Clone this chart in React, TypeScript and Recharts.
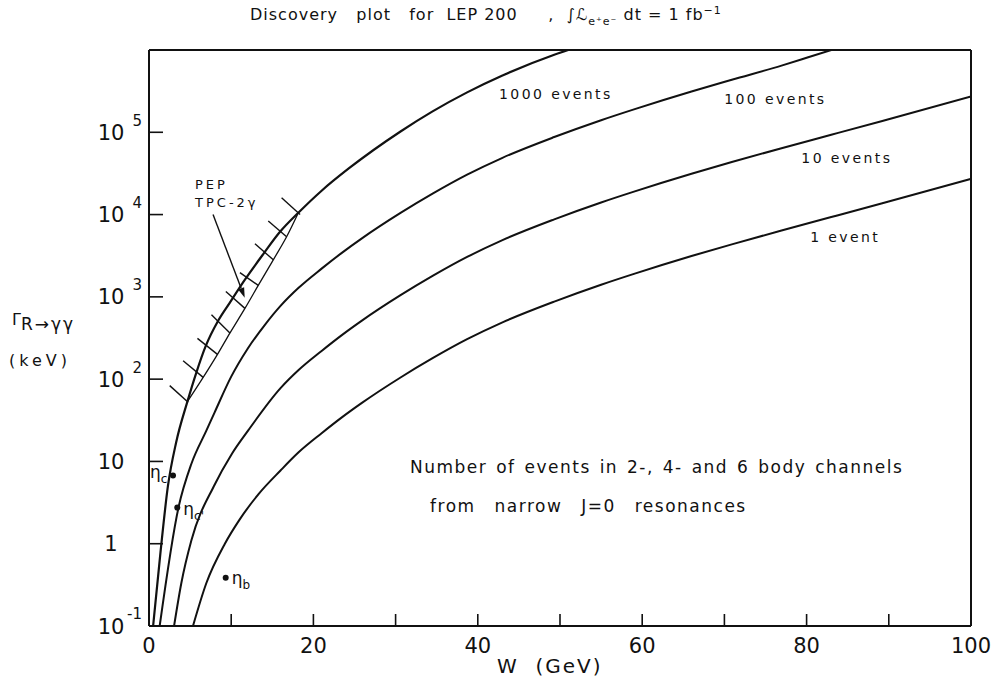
import React from 'react';
import { ComposedChart, Line, XAxis, YAxis, ReferenceDot, ReferenceLine } from 'recharts';

const FONT = '"DejaVu Sans", "Liberation Sans", sans-serif';
const INK = '#111';

// ---- axes ----
const xTicks = [0, 10, 20, 30, 40, 50, 60, 70, 80, 90, 100];
const xTickLabels = ['0', '', '20', '', '40', '', '60', '', '80', '', '100'];
const yTicks = [0.1, 1, 10, 100, 1000, 10000, 100000];
const yTickBase = ['10', '1', '10', '10', '10', '10', '10'];
const yTickExp = ['-1', '', '', '2', '3', '4', '5'];

// ---- curves: W (GeV) and Gamma (keV) ----
const w1000 = [0.5, 1.4, 2.3, 3.3, 4.67, 5.77, 6.87, 8.41, 9.84, 11.67, 13.9, 15.94, 18.17, 21.0, 24.3, 30.6, 34.5, 38.7, 43.0, 49.3, 51.0];
const g1000 = [0.1, 0.79, 5.0, 17, 53.3, 121, 248, 512, 853, 1620, 3310, 6170, 10520, 19500, 36310, 102300, 179500, 305500, 489800, 875000, 1000000];

const w100 = [1.3, 3.6, 5.16, 6.99, 8.0, 10.0, 12.0, 14.1, 16.0, 18.2, 21.0, 23.5, 25.9, 30.6, 34.5, 38.7, 43.0, 49.3, 55.0, 59.0, 66.0, 70.9, 76.95, 80.0, 83.0];
const g100 = [0.1, 2.79, 9.38, 23.8, 39.8, 107.2, 234.4, 457.1, 776.2, 1288, 2203, 3451, 5140, 10470, 17950, 30550, 48980, 87500, 140300, 190100, 313300, 434500, 645700, 803500, 1000000];

const w10 = [3.05, 3.93, 5.16, 8.0, 10.0, 12.07, 16.0, 18.2, 21.0, 23.5, 25.9, 30.6, 34.5, 38.7, 43.0, 49.3, 55.0, 59.0, 66.0, 70.9, 76.95, 83.0, 89.1, 100];
const g10 = [0.1, 0.331, 1.1, 5.25, 12.0, 23.8, 77.6, 128.8, 220, 345, 514, 1047, 1795, 3055, 4898, 8750, 14030, 19010, 31330, 43450, 64120, 93330, 136500, 272300];

const w1 = [5.35, 6.97, 9.23, 11.0, 13.3, 16.0, 18.2, 21.0, 23.5, 25.9, 30.6, 34.5, 38.7, 43.0, 49.3, 55.0, 59.0, 66.0, 70.9, 76.95, 83.0, 89.1, 100];
const g1 = [0.1, 0.331, 1.0, 1.95, 3.98, 7.76, 12.9, 22.0, 34.5, 51.4, 104.7, 179.5, 305.5, 489.8, 875, 1403, 1901, 3133, 4345, 6412, 9333, 13650, 27230];

// PEP TPC-2gamma excluded band (lower boundary)
const wBand = [4.67, 6.59, 8.33, 9.84, 11.67, 13.29, 15.12, 16.74, 18.17];
const gBand = [53.3, 105, 200, 363, 724, 1380, 2818, 5370, 10520];

// hatch strokes (start / end)
const hatchW1 = [2.52, 4.15, 5.89, 7.6, 9.35, 11.06, 12.89, 14.51, 16.13];
const hatchG1 = [83.4, 167, 313, 605, 1159, 1972, 4426, 8337, 16000];
const hatchW2 = [4.76, 6.59, 8.33, 9.84, 11.67, 13.29, 15.12, 16.74, 18.38];
const hatchG2 = [52.4, 105, 200, 363, 724, 1380, 2818, 5370, 10040];

// arrow from PEP label to band
const arrowW = [7.79, 11.64];
const arrowG = [10040, 977];

// resonances
const etaNames = ['c', "c'", 'b'];
const etaW = [2.92, 3.44, 9.33];
const etaG = [6.76, 2.75, 0.385];

// curve labels
const curveLabelText = ['1000 events', '100 events', '10 events', '1 event'];
const curveLabelW = [49.5, 76.2, 84.9, 84.7];
const curveLabelG = [290000, 257000, 48400, 5330];

// notes
const noteText = ['Number of events in 2-, 4- and 6 body channels', 'from narrow J=0 resonances'];
const noteW = [31.75, 34.2];
const noteG = [8.7, 2.85];
const pepText = ['PEP', 'TPC-2γ'];
const pepW = [5.6, 5.6];
const pepG = [23400, 14100];

const toPts = (w: number[], g: number[]) => w.map((x, i) => ({ w: x, v: g[i] }));

const XTick = (props: any) => {
  const { x, y, payload } = props;
  const lab = xTickLabels[xTicks.indexOf(payload.value)];
  if (!lab) return null;
  return (
    <text x={x} y={y} dy="0.36em" textAnchor="middle" fontSize={21} fill={INK} style={{ fontFamily: FONT }}>
      {lab}
    </text>
  );
};

const YTick = (props: any) => {
  const { x, y, payload } = props;
  const i = yTicks.indexOf(payload.value);
  if (i < 0) return null;
  return (
    <g style={{ fontFamily: FONT }} fill={INK}>
      <text x={x} y={y} dy="0.36em" textAnchor="middle" fontSize={21}>{yTickBase[i]}</text>
      {yTickExp[i] && (
        <text x={x + 31} y={y - 12} dy="0.36em" textAnchor="end" fontSize={15}>{yTickExp[i]}</text>
      )}
    </g>
  );
};

const ArrowShape = (p: any) => {
  const { x1, y1, x2, y2 } = p;
  const ang = Math.atan2(y2 - y1, x2 - x1);
  const L = 10;
  const H = 3.2;
  const bx = x2 - L * Math.cos(ang);
  const by = y2 - L * Math.sin(ang);
  const px = -Math.sin(ang) * H;
  const py = Math.cos(ang) * H;
  return (
    <g>
      <line x1={x1} y1={y1} x2={bx} y2={by} stroke={INK} strokeWidth={1.4} />
      <polygon points={`${x2},${y2} ${bx + px},${by + py} ${bx - px},${by - py}`} fill={INK} />
    </g>
  );
};

const textShape = (txt: string, size: number, anchor: string, ls: number, ws = 0) => (p: any) => (
  <text
    x={p.cx}
    y={p.cy}
    dy="0.36em"
    textAnchor={anchor as any}
    fontSize={size}
    fill={INK}
    style={{ fontFamily: FONT, letterSpacing: ls, wordSpacing: ws }}
  >
    {txt}
  </text>
);

const etaShape = (i: number) => (p: any) => {
  const { cx, cy } = p;
  const name = etaNames[i];
  let lx = cx + 6;
  let ly = cy + 6;
  if (i === 0) {
    lx = cx - 23;
    ly = cy + 3;
  }
  if (i === 1) {
    ly = cy + 7;
  }
  return (
    <g style={{ fontFamily: FONT }} fill={INK}>
      <circle cx={cx} cy={cy} r={3} fill={INK} />
      <text x={lx} y={ly} fontSize={17}>
        η<tspan fontSize={12} dy={5}>{name}</tspan>
      </text>
    </g>
  );
};

const axisStroke = { stroke: INK, strokeWidth: 2 };
const tickStroke = { stroke: INK, strokeWidth: 1.6 };

export default function App() {
  return (
    <div
      style={{
        position: 'absolute',
        left: 0,
        top: 0,
        width: 1002,
        height: 681,
        background: '#fff',
        fontFamily: FONT,
        color: INK,
        overflow: 'hidden',
      }}
    >
      <ComposedChart width={1002} height={681} margin={{ top: 49, right: 30, bottom: 0, left: 0 }}>
        <XAxis
          dataKey="w"
          type="number"
          domain={[0, 100]}
          ticks={xTicks}
          interval={0}
          tickSize={-12}
          tickMargin={31}
          tick={<XTick />}
          axisLine={axisStroke}
          tickLine={tickStroke}
          height={55}
          allowDataOverflow
        />
        <XAxis
          xAxisId="t"
          orientation="top"
          dataKey="w"
          type="number"
          domain={[0, 100]}
          ticks={xTicks}
          interval={0}
          tickSize={-12}
          tick={false}
          axisLine={axisStroke}
          tickLine={tickStroke}
          height={1}
          allowDataOverflow
        />
        <YAxis
          dataKey="v"
          type="number"
          scale="log"
          domain={[0.1, 1000000]}
          ticks={yTicks}
          interval={0}
          tickSize={-14}
          tickMargin={52}
          tick={<YTick />}
          axisLine={axisStroke}
          tickLine={tickStroke}
          width={149}
          allowDataOverflow
        />
        <YAxis
          yAxisId="r"
          orientation="right"
          dataKey="v"
          type="number"
          scale="log"
          domain={[0.1, 1000000]}
          ticks={yTicks}
          interval={0}
          tickSize={-14}
          tick={false}
          axisLine={axisStroke}
          tickLine={tickStroke}
          width={1}
          allowDataOverflow
        />

        <Line data={toPts(w1000, g1000)} dataKey="v" type="monotone" stroke={INK} strokeWidth={2.2} dot={false} isAnimationActive={false} />
        <Line data={toPts(w100, g100)} dataKey="v" type="monotone" stroke={INK} strokeWidth={2} dot={false} isAnimationActive={false} />
        <Line data={toPts(w10, g10)} dataKey="v" type="monotone" stroke={INK} strokeWidth={2} dot={false} isAnimationActive={false} />
        <Line data={toPts(w1, g1)} dataKey="v" type="monotone" stroke={INK} strokeWidth={2} dot={false} isAnimationActive={false} />
        <Line data={toPts(wBand, gBand)} dataKey="v" type="monotone" stroke={INK} strokeWidth={1.3} dot={false} isAnimationActive={false} />
        {hatchW1.map((_, i) => (
          <Line
            key={'h' + i}
            data={toPts([hatchW1[i], hatchW2[i]], [hatchG1[i], hatchG2[i]])}
            dataKey="v"
            type="linear"
            stroke={INK}
            strokeWidth={1.4}
            dot={false}
            isAnimationActive={false}
          />
        ))}

        <ReferenceLine
          segment={[
            { x: arrowW[0], y: arrowG[0] },
            { x: arrowW[1], y: arrowG[1] },
          ]}
          shape={ArrowShape}
          ifOverflow="visible"
        />

        {etaW.map((_, i) => (
          <ReferenceDot key={'e' + i} x={etaW[i]} y={etaG[i]} r={3} shape={etaShape(i)} ifOverflow="visible" />
        ))}

        {curveLabelText.map((t, i) => (
          <ReferenceDot key={'c' + i} x={curveLabelW[i]} y={curveLabelG[i]} r={0} shape={textShape(t, 14, 'middle', 2.4)} ifOverflow="visible" />
        ))}
        {noteText.map((t, i) => (
          <ReferenceDot key={'n' + i} x={noteW[i]} y={noteG[i]} r={0} shape={textShape(t, 17, 'start', 1.5, i === 1 ? 12 : 2)} ifOverflow="visible" />
        ))}
        {pepText.map((t, i) => (
          <ReferenceDot key={'p' + i} x={pepW[i]} y={pepG[i]} r={0} shape={textShape(t, 13, 'start', 3)} ifOverflow="visible" />
        ))}
      </ComposedChart>

      <div
        style={{
          position: 'absolute',
          left: 250,
          top: 5,
          fontSize: 16,
          whiteSpace: 'pre',
          letterSpacing: 1,
          lineHeight: '20px',
        }}
      >
        {'Discovery   plot   for  LEP 200     ,  ∫ℒ'}
        <span style={{ fontSize: 11, position: 'relative', top: 5 }}>e⁺e⁻</span>
        {' dt = 1 fb'}
        <span style={{ fontSize: 11, position: 'relative', top: -6 }}>−1</span>
      </div>

      <div style={{ position: 'absolute', left: 12, top: 314, whiteSpace: 'pre', lineHeight: '20px' }}>
        <span style={{ fontSize: 16, position: 'relative', top: -5 }}>Γ</span>
        <span style={{ fontSize: 17, letterSpacing: 2 }}>R→γγ</span>
      </div>
      <div style={{ position: 'absolute', left: 9, top: 351, fontSize: 16, letterSpacing: 4, lineHeight: '20px' }}>(keV)</div>

      <div style={{ position: 'absolute', left: 497, top: 654, fontSize: 20, letterSpacing: 2, whiteSpace: 'pre', lineHeight: '24px' }}>
        {'W  (GeV)'}
      </div>
    </div>
  );
}
